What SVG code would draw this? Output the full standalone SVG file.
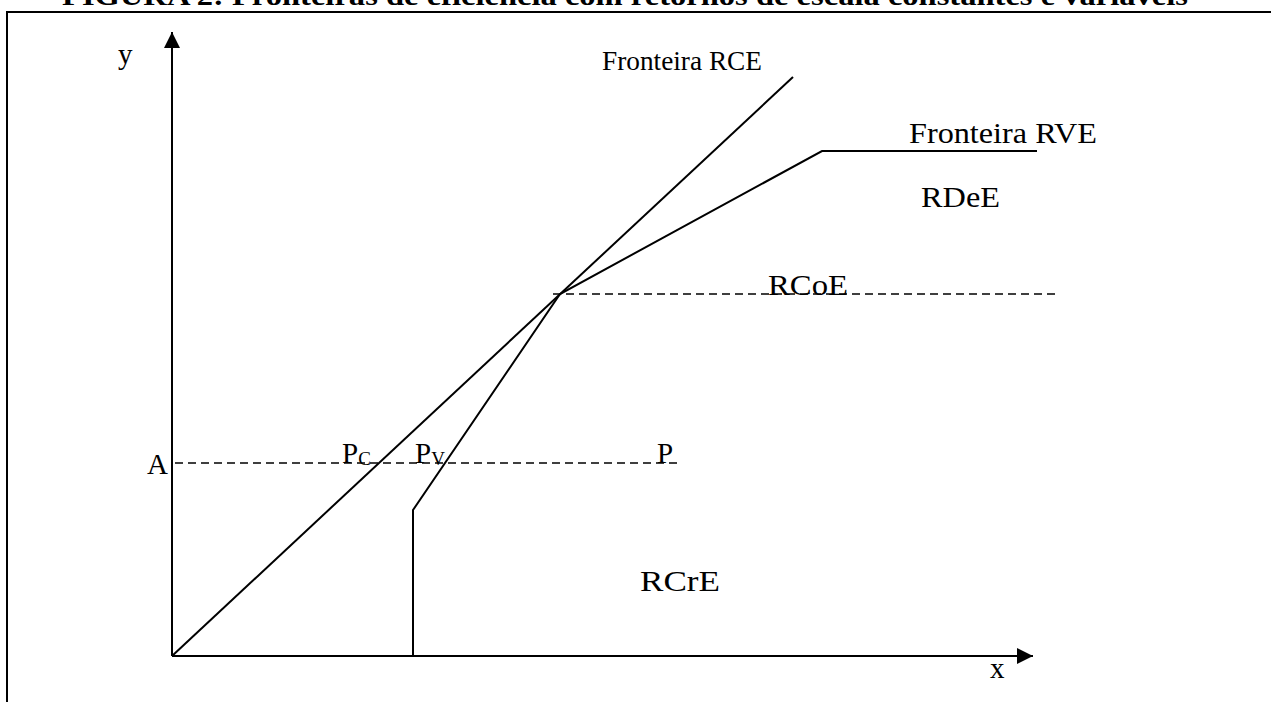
<svg xmlns="http://www.w3.org/2000/svg" width="1271" height="702" viewBox="0 0 1271 702">
<style>
.t{font-family:"Liberation Serif","Times New Roman",serif;font-size:29px;fill:#000}
.ln{stroke:#000;stroke-width:2;fill:none}
.ds{stroke:#000;stroke-width:1.5;fill:none;stroke-dasharray:8 5}
</style>
<defs>
<marker id="ah" viewBox="0 0 10 10" refX="10" refY="5" markerWidth="16" markerHeight="16" markerUnits="userSpaceOnUse" orient="auto">
<path d="M0,0 L10,5 L0,10 Z" fill="#000"/>
</marker>
</defs>
<rect width="1271" height="702" fill="#fff"/>
<text x="625" y="5" text-anchor="middle" class="t" style="font-weight:bold;font-size:28px" textLength="1126" lengthAdjust="spacingAndGlyphs">FIGURA 2: Fronteiras de eficiência com retornos de escala constantes e variáveis</text>
<g id="frame"><path d="M7,710 V12 H1280" class="ln"/></g>
<g id="connectors">
<line x1="172" y1="656" x2="172" y2="32" class="ln" marker-end="url(#ah)"/>
<line x1="172" y1="656" x2="1033" y2="656" class="ln" marker-end="url(#ah)"/>
<line x1="172" y1="656" x2="793" y2="77" class="ln"/>
<polyline points="413,656 413,510 560,294 822,151 1037,151" class="ln"/>
<line x1="175" y1="463" x2="678" y2="463" class="ds"/>
<line x1="553" y1="294" x2="1058" y2="294" class="ds"/>
</g>
<g id="labels">
<text x="118" y="64" class="t">y</text>
<text x="990" y="678" class="t">x</text>
<text x="602" y="70" class="t" style="font-size:28px" textLength="160" lengthAdjust="spacingAndGlyphs">Fronteira RCE</text>
<text x="909" y="143" class="t" textLength="188" lengthAdjust="spacingAndGlyphs">Fronteira RVE</text>
<text x="921" y="207" class="t" textLength="79" lengthAdjust="spacingAndGlyphs">RDeE</text>
<text x="768" y="295" class="t" textLength="80" lengthAdjust="spacingAndGlyphs">RCoE</text>
<text x="147" y="474" class="t">A</text>
<text x="342" y="463" class="t">P<tspan font-size="19" dy="2">C</tspan></text>
<text x="415" y="463" class="t">P<tspan font-size="19" dy="2">V</tspan></text>
<text x="657" y="463" class="t">P</text>
<text x="640" y="591" class="t" textLength="80" lengthAdjust="spacingAndGlyphs">RCrE</text>
</g>
</svg>
